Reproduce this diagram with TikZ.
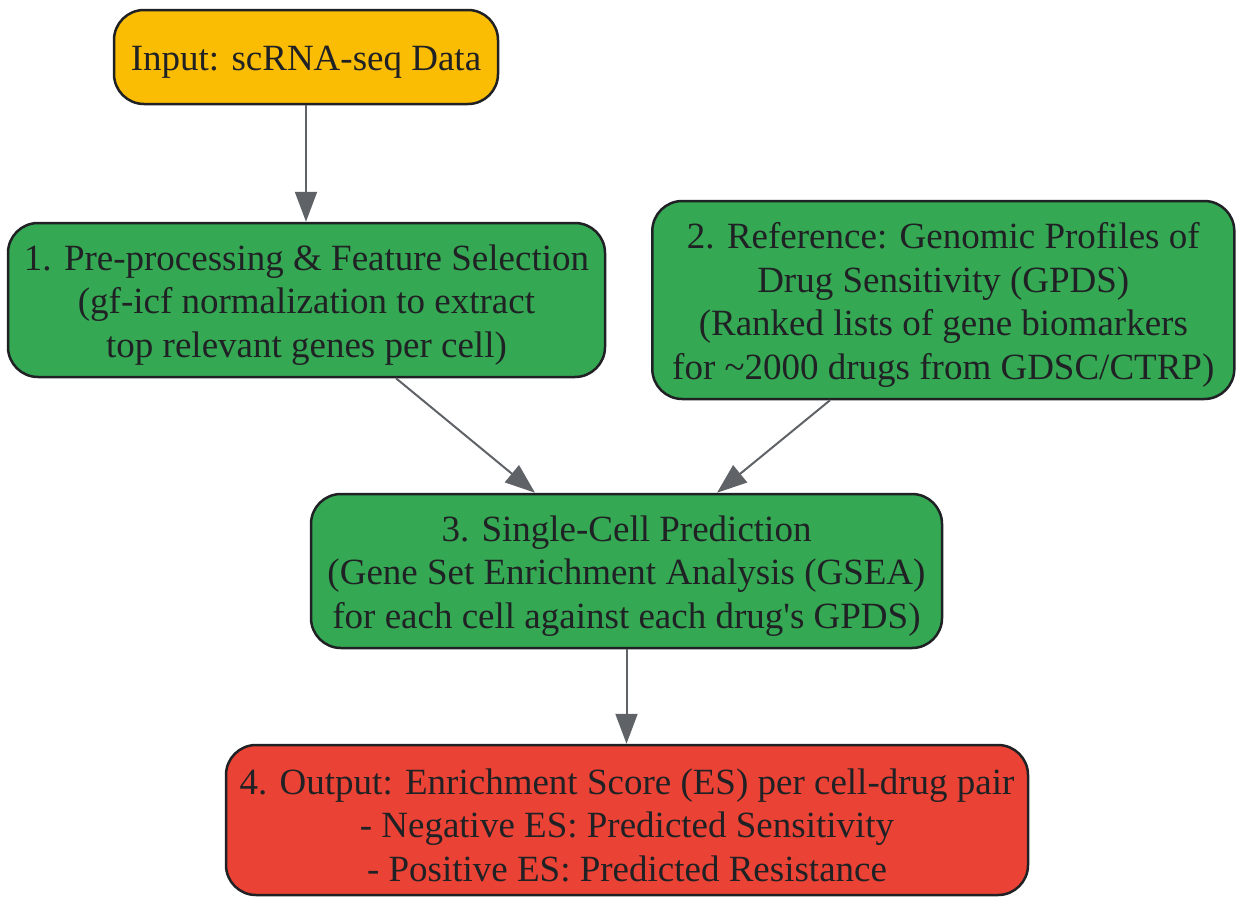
\documentclass[tikz,border=0pt]{standalone}
\usepackage{fontspec}
\setmainfont{Liberation Serif}
\usetikzlibrary{arrows.meta}
\definecolor{cyellow}{HTML}{FBBC04}
\definecolor{cgreen}{HTML}{34A853}
\definecolor{cred}{HTML}{EA4335}
\definecolor{cborder}{HTML}{202124}
\definecolor{carrow}{HTML}{5F6368}
\tikzset{
  box/.style={rectangle, rounded corners=30pt, draw=cborder, line width=2.5pt,
    inner sep=0pt},
  boxtext/.style={text=cborder, align=center, inner sep=0pt, yshift=-5pt,
    font=\fontsize{37}{43.5}\selectfont},
  conn/.style={draw=carrow, line width=2pt, -{Triangle[length=30pt,width=22pt]}}
}
\begin{document}
\begin{tikzpicture}[x=1pt,y=-1pt]
\useasboundingbox (0,0) rectangle (1236,897);
\node[box, fill=cyellow, minimum width=384pt, minimum height=94pt,
  label={[boxtext]center:Input: scRNA-seq Data}] (in) at (306,57) {};
\node[box, fill=cgreen, minimum width=597pt, minimum height=154pt,
  label={[boxtext]center:{1. Pre-processing \& Feature Selection\\(gf-icf normalization to extract\\top relevant genes per cell)}}] (p1) at (306.5,300) {};
\node[box, fill=cgreen, minimum width=582pt, minimum height=198pt,
  label={[boxtext]center:{2. Reference: Genomic Profiles of\\Drug Sensitivity (GPDS)\\(Ranked lists of gene biomarkers\\for \textasciitilde2000 drugs from GDSC/CTRP)}}] (p2) at (943.3,300) {};
\node[box, fill=cgreen, minimum width=631pt, minimum height=154pt,
  label={[boxtext]center:{3. Single-Cell Prediction\\(Gene Set Enrichment Analysis (GSEA)\\for each cell against each drug\textquotesingle s GPDS)}}] (p3) at (626.5,571) {};
\node[box, fill=cred, minimum width=802pt, minimum height=150pt,
  label={[boxtext]center:{4. Output: Enrichment Score (ES) per cell-drug pair\\- Negative ES: Predicted Sensitivity\\- Positive ES: Predicted Resistance}}] (p4) at (627,820) {};
\draw[conn] (in.south) -- (in.south |- p1.north);
\draw[conn] ([xshift=89.5pt]p1.south) -- ([xshift=-91.5pt]p3.north);
\draw[conn] ([xshift=-113.3pt]p2.south) -- ([xshift=90.5pt]p3.north);
\draw[conn] (p3.south) -- (p3.south |- p4.north);
\end{tikzpicture}
\end{document}
